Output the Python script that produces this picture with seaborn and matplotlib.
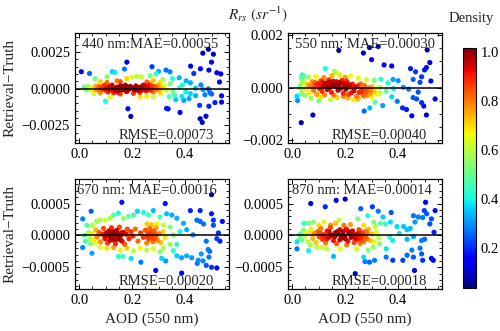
import numpy as np
import pandas as pd
import matplotlib
matplotlib.use("Agg")
import matplotlib.pyplot as plt
import seaborn as sns
from matplotlib.colors import Normalize
from matplotlib.ticker import MultipleLocator, AutoMinorLocator

# ---------------- data (AOD, Retrieval-Truth in units of 1e-4 sr^-1) ----------------
UNIT = 1e-4
bands = ["440", "550", "670", "870"]
mae_labels = ["440 nm:MAE=0.00055", "550 nm: MAE=0.00030",
              "670 nm: MAE=0.00016", "870 nm: MAE=0.00014"]
rmse_labels = ["RMSE=0.00073", "RMSE=0.00040", "RMSE=0.00020", "RMSE=0.00018"]

pts440 = [
    (0.008, 11.5), (0.039, 10.3), (0.06, 6.8), (0.105, 8.1), (0.099, -8.6), (0.125, 11.5),
    (0.135, 11.0), (0.18, 18.0), (0.171, 13.3), (0.184, -13.7), (0.195, -18.9), (0.275, 14.9),
    (0.30, 11.7), (0.328, 12.6), (0.343, 11.4), (0.33, -13.5), (0.336, -13.8), (0.381, -16.2),
    (0.421, 15.3), (0.433, 10.3), (0.458, 13.5), (0.467, 24.1), (0.488, 26.8), (0.507, 23.4),
    (0.50, 18.0), (0.49, 12.6), (0.52, 10.8), (0.535, 10.0), (0.53, 4.5), (0.538, -9.2),
    (0.455, -11.4), (0.49, -12.0), (0.457, -20.5), (0.465, -23.0), (0.479, -18.8), (0.50, -3.7),
    (0.538, -4.9), (0.513, -9.5), (0.494, -2.7),
    (0.365, -7.5), (0.388, -5.3), (0.403, -2.2), (0.42, -3.4), (0.44, 0.3), (0.468, -0.7),
    (0.488, -0.2), (0.404, 5.3), (0.378, 7.4), (0.353, 6.8), (0.316, 6.1), (0.29, 10.0),
    (0.268, 8.8), (0.344, 3.4), (0.305, 4.1), (0.355, -2.0), (0.38, 0.8), (0.307, -3.6),
    (0.28, -5.6), (0.255, -5.2), (0.23, -5.6), (0.205, -3.3), (0.18, -2.0), (0.155, -3.7),
    (0.13, -2.9), (0.117, -6.0), (0.08, -3.0), (0.055, -3.5), (0.035, 0.3), (0.02, 1.1),
    (0.08, 4.8), (0.105, 4.1), (0.143, 5.3), (0.155, 4.7), (0.18, 6.8), (0.20, 7.7),
    (0.218, 8.3), (0.235, 8.0), (0.256, 4.5), (0.28, 5.4),
    (0.34, -5.5), (0.36, -4.5), (0.395, -8.0), (0.415, -6.8), (0.44, -4.8), (0.475, -4.2),
    (0.46, 2.5), (0.42, 4.0), (0.39, 2.5), (0.33, -1.0), (0.32, 2.0),
    (0.022, 0.6), (0.028, -0.9), (0.034, 1.4), (0.041, -0.2), (0.047, 0.8), (0.052, -1.5),
    (0.058, 0.3), (0.063, 1.7), (0.067, -0.8), (0.072, 0.5), (0.078, -1.9), (0.083, 1.0),
    (0.088, -0.3), (0.094, 2.1), (0.099, -1.1), (0.104, 0.2), (0.109, -2.3), (0.113, 1.3),
    (0.118, -0.6), (0.124, 2.4), (0.131, 0.0), (0.137, -1.4), (0.142, 0.9), (0.147, -2.6),
    (0.151, 0.4), (0.156, 1.9), (0.161, -0.9), (0.165, 1.1), (0.169, -0.1), (0.174, 2.3),
    (0.178, -1.7), (0.183, 0.7), (0.188, -0.5), (0.193, 1.5), (0.204, 0.1), (0.209, -1.0),
    (0.214, 1.8), (0.219, -0.3), (0.224, 0.8), (0.229, -2.5), (0.234, 1.2), (0.238, -0.8),
    (0.243, 2.4), (0.248, 0.0), (0.253, -1.6), (0.257, 1.6), (0.262, -0.4), (0.266, 2.8),
    (0.271, -1.2), (0.276, 0.6), (0.281, -2.2), (0.287, 1.4), (0.293, -0.7), (0.298, 2.0),
    (0.304, -1.8), (0.311, 0.3),
    (0.06, -0.4), (0.075, 1.3), (0.09, 0.6), (0.106, -1.3), (0.12, 0.8), (0.15, -1.1),
    (0.165, 0.3), (0.172, -0.7), (0.18, 1.2), (0.212, 0.5), (0.222, -1.2), (0.245, 0.9),
    (0.255, -0.6), (0.26, 0.7), (0.268, -0.3), (0.274, 1.9), (0.29, 0.2), (0.045, -0.7),
]

pts550 = [
    (0.034, -13.3), (0.078, -10.4), (0.018, -3.3), (0.02, -4.9), (0.035, 3.6), (0.045, 4.4),
    (0.038, 4.8), (0.037, 2.4), (0.03, -0.1), (0.035, -2.4), (0.10, -5.0), (0.094, -2.8),
    (0.125, 7.2), (0.16, 6.2), (0.165, 5.6), (0.176, 14.1), (0.193, -3.3), (0.23, -4.6),
    (0.272, -8.9), (0.293, -7.7), (0.269, 13.1), (0.292, 15.2), (0.30, 10.6), (0.325, 15.6),
    (0.347, 8.6), (0.376, 8.2), (0.313, -5.5), (0.342, -6.8), (0.376, -3.5), (0.397, -5.2),
    (0.417, -7.7), (0.432, -8.3), (0.447, 7.2), (0.466, 6.0), (0.489, 4.1), (0.50, 6.7),
    (0.507, 7.6), (0.52, 9.5), (0.51, 14.3), (0.524, 2.5), (0.54, -4.3), (0.452, -10.7),
    (0.507, -10.4), (0.47, -4.3), (0.489, -5.7), (0.497, -7.0), (0.457, -3.8), (0.476, -1.7),
    (0.483, 2.0), (0.44, -0.6), (0.42, 0.1), (0.40, 2.6), (0.381, 3.1), (0.362, 1.8),
    (0.355, -1.3), (0.33, -2.0), (0.383, -0.3), (0.457, 3.1), (0.145, -4.5), (0.245, -4.5),
    (0.06, 4.0), (0.09, 4.2), (0.12, 3.8), (0.15, 4.5), (0.18, 4.8), (0.20, 3.9),
    (0.22, 4.4), (0.25, 3.6), (0.28, 3.0), (0.31, 2.8), (0.335, 3.2),
    (0.05, -3.0), (0.07, -4.0), (0.11, -3.5), (0.17, -3.8), (0.21, -3.9), (0.25, -4.2),
    (0.27, -3.2), (0.30, -3.7), (0.32, -2.5),
    (0.03, 0.8), (0.038, -1.2), (0.045, 1.9), (0.052, -0.4), (0.058, 1.2), (0.064, -2.0),
    (0.07, 0.3), (0.075, 2.3), (0.081, -1.0), (0.086, 0.9), (0.092, -2.4), (0.097, 1.5),
    (0.103, -0.3), (0.108, 2.6), (0.113, -1.4), (0.118, 0.5), (0.123, -2.7), (0.128, 1.7),
    (0.133, -0.7), (0.138, 2.9), (0.143, 0.1), (0.148, -1.8), (0.153, 1.1), (0.158, -2.9),
    (0.163, 0.6), (0.168, 2.2), (0.173, -1.0), (0.178, 1.4), (0.183, -0.2), (0.188, 2.7),
    (0.193, -2.1), (0.198, 0.8), (0.203, -0.6), (0.208, 1.8), (0.213, -2.6), (0.218, 0.2),
    (0.223, -2.0), (0.228, 1.3), (0.233, -1.2), (0.238, 0.2), (0.243, -3.4), (0.248, 0.7),
    (0.253, -1.8), (0.258, 1.4), (0.263, -0.8), (0.268, -2.7), (0.273, 0.8), (0.278, -1.4),
    (0.283, -3.0), (0.289, -0.1), (0.295, -2.3), (0.301, 0.4), (0.308, -1.6), (0.315, -0.3),
    (0.323, -2.4), (0.332, 0.1),
    (0.1, 1.1), (0.115, 2.0), (0.13, 0.6), (0.14, 1.9), (0.155, 2.4), (0.17, 0.9),
    (0.18, 2.0), (0.195, 1.6), (0.205, 2.6), (0.215, 1.1), (0.26, -1.5), (0.275, -2.0),
    (0.286, -1.0), (0.298, -1.2), (0.065, 0.9), (0.085, 2.0),
]

pts670 = [
    (0.013, 2.6), (0.013, -1.9), (0.045, 3.8), (0.048, -2.8), (0.161, 5.2), (0.148, -3.3),
    (0.165, -3.3), (0.196, -3.6), (0.233, -4.2), (0.289, -5.5), (0.325, 5.0), (0.312, -3.6),
    (0.327, -4.0), (0.387, -5.9), (0.457, 3.9), (0.50, 6.4), (0.50, 3.4), (0.507, 2.4),
    (0.507, 1.6), (0.541, 2.2), (0.526, 0.4), (0.52, -0.5), (0.532, -0.9), (0.48, -0.9),
    (0.487, -2.2), (0.493, -2.5), (0.461, -2.9), (0.45, -3.9), (0.468, -4.0), (0.446, -4.4),
    (0.48, -4.7), (0.50, -5.0), (0.52, -5.1), (0.49, -3.4), (0.42, 3.9), (0.445, 2.4),
    (0.457, 2.2), (0.47, 1.8),
    (0.029, 1.6), (0.05, 1.6), (0.066, 2.2), (0.078, 2.4), (0.097, 2.4), (0.117, 2.7),
    (0.13, 3.2), (0.148, 3.5), (0.167, 2.7), (0.186, 3.0), (0.205, 3.2), (0.22, 3.8),
    (0.243, 3.6), (0.262, 3.2), (0.28, 3.9), (0.305, 2.9), (0.33, 3.4), (0.35, 3.2),
    (0.369, 2.7), (0.394, 1.9), (0.293, 1.8), (0.274, 1.7), (0.256, 1.8), (0.318, 1.6),
    (0.343, 1.3), (0.381, 0.6), (0.406, 0.9), (0.43, 0.1), (0.356, 0.1),
    (0.023, -0.9), (0.042, -1.3), (0.06, -1.1), (0.08, -1.8), (0.105, -2.0), (0.13, -1.9),
    (0.155, -2.3), (0.18, -2.0), (0.205, -2.4), (0.23, -2.0), (0.255, -2.3), (0.28, -2.1),
    (0.305, -2.6), (0.318, -2.0), (0.343, -1.4), (0.356, -2.4), (0.369, -3.2), (0.387, -3.5),
    (0.406, -3.2), (0.425, -3.5), (0.369, -1.4), (0.035, 0.5), (0.04, -0.5), (0.02, 0.0),
    (0.05, 0.3), (0.056, -0.6), (0.062, 0.9), (0.068, -0.2), (0.074, 0.5), (0.08, -1.0),
    (0.086, 0.2), (0.092, 1.1), (0.097, -0.5), (0.102, 0.4), (0.107, -1.2), (0.112, 0.7),
    (0.117, -0.2), (0.122, 1.2), (0.127, -0.7), (0.132, 0.1), (0.137, -1.3), (0.142, 0.8),
    (0.147, -0.4), (0.152, 1.3), (0.157, 0.0), (0.162, -0.9), (0.167, 0.5), (0.172, -1.4),
    (0.177, 0.2), (0.182, 1.0), (0.188, -0.5), (0.195, 0.6), (0.203, -0.1), (0.212, 1.0),
    (0.222, -0.9), (0.232, 0.4), (0.242, -0.3), (0.25, 0.8), (0.255, -1.2), (0.259, 0.1),
    (0.263, -0.6), (0.267, 1.1), (0.271, -0.2), (0.275, 0.5), (0.279, -1.0), (0.283, 0.7),
    (0.287, -0.4), (0.291, 1.2), (0.296, -0.8), (0.302, 0.3), (0.309, -1.1), (0.317, 0.6),
    (0.325, -0.3),
    (0.1, -0.1), (0.11, 0.3), (0.12, -0.4), (0.125, 0.5), (0.135, 0.6), (0.14, -0.6),
    (0.145, 0.3), (0.155, -0.7), (0.16, 0.4), (0.26, -0.3), (0.265, 0.3), (0.27, 0.6),
    (0.28, -0.5), (0.285, 0.2), (0.29, -0.2), (0.115, -0.8),
]

pts870 = [
    (0.018, -2.1), (0.045, 1.9), (0.062, -2.4), (0.07, 5.0), (0.125, 4.5), (0.166, 5.5),
    (0.20, 5.7), (0.156, -3.3), (0.238, -6.0), (0.259, 4.2), (0.275, -4.1), (0.27, -3.4),
    (0.292, -4.2), (0.311, -3.9), (0.303, 4.5), (0.325, 3.8), (0.38, -3.9), (0.418, -3.9),
    (0.434, -3.1), (0.452, -2.3), (0.462, -5.5), (0.458, -3.4), (0.483, -2.0), (0.489, -0.8),
    (0.493, -3.9), (0.50, -0.6), (0.504, 5.2), (0.499, 3.9), (0.508, 3.4), (0.464, 2.1),
    (0.458, 3.1), (0.476, 2.9), (0.493, 2.8), (0.52, 1.8), (0.526, 2.6), (0.536, 0.5),
    (0.54, 3.9), (0.526, -3.6), (0.533, -3.9), (0.489, -2.9),
    (0.286, 3.1), (0.247, 2.6), (0.343, 2.9), (0.374, 3.6), (0.355, -3.4),
    (0.434, 0.9), (0.421, 1.4), (0.446, 1.1), (0.396, 1.4), (0.371, 2.1), (0.352, 1.8),
    (0.333, 1.9), (0.314, 1.4), (0.308, 2.1), (0.27, 1.6), (0.22, 1.7), (0.195, 1.6),
    (0.177, 2.4), (0.164, 1.9), (0.145, 1.6), (0.12, 2.1), (0.10, 1.6), (0.08, 2.1),
    (0.062, 1.9), (0.044, 1.9), (0.018, -1.0), (0.03, -0.5), (0.068, -1.5), (0.093, -1.8),
    (0.112, -1.9), (0.13, -2.1), (0.18, -2.1), (0.206, -1.5), (0.243, -2.1), (0.256, -1.3),
    (0.287, -2.3), (0.306, -1.8), (0.33, -1.3), (0.355, -2.1), (0.38, -0.8), (0.405, 0.3),
    (0.368, -0.3), (0.434, -0.6), (0.458, -0.2),
    (0.03, 0.2), (0.036, -0.7), (0.042, 0.8), (0.048, -0.1), (0.054, 0.4), (0.06, -1.0),
    (0.066, 0.3), (0.072, 1.0), (0.078, -0.5), (0.084, 0.3), (0.09, -1.1), (0.096, 0.6),
    (0.102, -0.2), (0.108, 1.1), (0.114, -0.6), (0.12, 0.1), (0.126, -1.2), (0.132, 0.7),
    (0.138, -0.3), (0.144, 1.2), (0.15, 0.0), (0.156, -0.8), (0.162, 0.4), (0.168, -1.3),
    (0.174, 0.2), (0.18, 0.9), (0.186, -0.4), (0.192, 0.6), (0.198, -0.1), (0.204, 1.0),
    (0.21, -0.9), (0.216, 0.3), (0.222, -0.3), (0.228, 0.7), (0.234, -1.1), (0.24, 0.1),
    (0.246, -0.6), (0.252, 0.9), (0.258, -0.2), (0.264, 0.4), (0.27, -1.0), (0.276, 0.6),
    (0.282, -0.5), (0.288, 1.0), (0.295, -0.8), (0.302, 0.2), (0.31, -1.0), (0.318, 0.5),
    (0.327, -0.4),
    (0.105, 0.4), (0.117, -0.3), (0.13, -0.6), (0.14, 0.5), (0.16, -0.2), (0.17, 0.6),
    (0.18, -0.7), (0.19, 0.1), (0.2, -0.5), (0.212, 0.6), (0.225, 0.1), (0.238, -0.4),
    (0.25, 0.3), (0.262, -0.7), (0.274, -0.2), (0.285, 0.4),
]

all_pts = [pts440, pts550, pts670, pts870]
ylims = [(-0.0037, 0.0038), (-0.0021, 0.00208), (-0.00084, 0.00089), (-0.00084, 0.00089)]
ymajor = [0.0025, 0.002, 0.0005, 0.0005]
mae_x = [0.045, 0.045, 0.01, 0.025]


def density(x, y, bwx=0.9, bwy=2.0):
    d = np.vstack([x, y])
    n = d.shape[1]
    f = n ** (-1.0 / 6.0)
    s = np.diag([f * bwx, f * bwy])
    cov = s @ np.cov(d) @ s
    inv = np.linalg.inv(cov)
    diff = d[:, :, None] - d[:, None, :]
    m = np.einsum('ijk,il,ljk->jk', diff, inv, diff)
    dens = np.exp(-0.5 * m).sum(axis=1)
    return dens / dens.max()


sns.set_theme(style="ticks")
plt.rcParams.update({
    "font.family": ["Liberation Serif", "DejaVu Serif"],
    "mathtext.fontset": "stix",
    "xtick.direction": "in", "ytick.direction": "in",
    "xtick.top": True, "ytick.right": True,
    "xtick.major.size": 3.5, "ytick.major.size": 3.5,
    "xtick.minor.size": 2, "ytick.minor.size": 2,
    "xtick.major.width": 0.7, "ytick.major.width": 0.7,
    "xtick.minor.width": 0.6, "ytick.minor.width": 0.6,
    "axes.linewidth": 0.9, "axes.edgecolor": "black",
    "xtick.color": "black", "ytick.color": "black",
    "xtick.labelsize": 10.5, "ytick.labelsize": 10.5,
})

jet = matplotlib.colormaps["jet"]
fig = plt.figure(figsize=(5.0, 3.31), dpi=100)
W, H = 0.308, 0.333
positions = [(0.150, 0.568), (0.576, 0.568), (0.150, 0.127), (0.576, 0.127)]
norm = Normalize(vmin=0.037, vmax=1.016)

for i, pts in enumerate(all_pts):
    ax = fig.add_axes([positions[i][0], positions[i][1], W, H])
    arr = np.array(pts)
    x = arr[:, 0]
    y = arr[:, 1] * UNIT
    d = density(x, y)
    df = pd.DataFrame({"AOD": x, "err": y, "dens": d}).sort_values("dens")
    sns.scatterplot(data=df, x="AOD", y="err", hue="dens", palette=jet, hue_norm=norm,
                    s=14, linewidth=0, legend=False, ax=ax, zorder=2)
    ax.axhline(0, color="black", lw=1.1, zorder=3)
    ax.set_xlim(-0.016, 0.566)
    ax.set_ylim(*ylims[i])
    ax.xaxis.set_major_locator(MultipleLocator(0.2))
    ax.xaxis.set_minor_locator(AutoMinorLocator())
    ax.yaxis.set_major_locator(MultipleLocator(ymajor[i]))
    ax.yaxis.set_minor_locator(AutoMinorLocator())
    ax.tick_params(which="both", direction="in", top=True, right=True)
    ax.text(mae_x[i], 0.86, mae_labels[i], transform=ax.transAxes, fontsize=10.5,
            va="baseline", ha="left")
    ax.text(0.90, 0.04, rmse_labels[i], transform=ax.transAxes, fontsize=10.5,
            va="baseline", ha="right")
    ax.set_xlabel("AOD (550 nm)" if i >= 2 else "", fontsize=11)
    ax.set_ylabel("Retrieval\u2212Truth" if i % 2 == 0 else "", fontsize=11)

fig.text(0.516, 0.958, r"$R_{rs}$ $(sr^{-1})$", ha="center", va="center", fontsize=11)

cax = fig.add_axes([0.926, 0.130, 0.026, 0.725])
sm = matplotlib.cm.ScalarMappable(norm=norm, cmap=jet)
cb = fig.colorbar(sm, cax=cax, ticks=[0.2, 0.4, 0.6, 0.8, 1.0])
cb.outline.set_linewidth(0.8)
cax.tick_params(labelsize=10.5, direction="in", length=3, right=True, left=False)
cax.minorticks_off()
fig.text(0.942, 0.943, "Density", ha="center", va="center", fontsize=10.5)

fig.savefig("out.png", dpi=100)
